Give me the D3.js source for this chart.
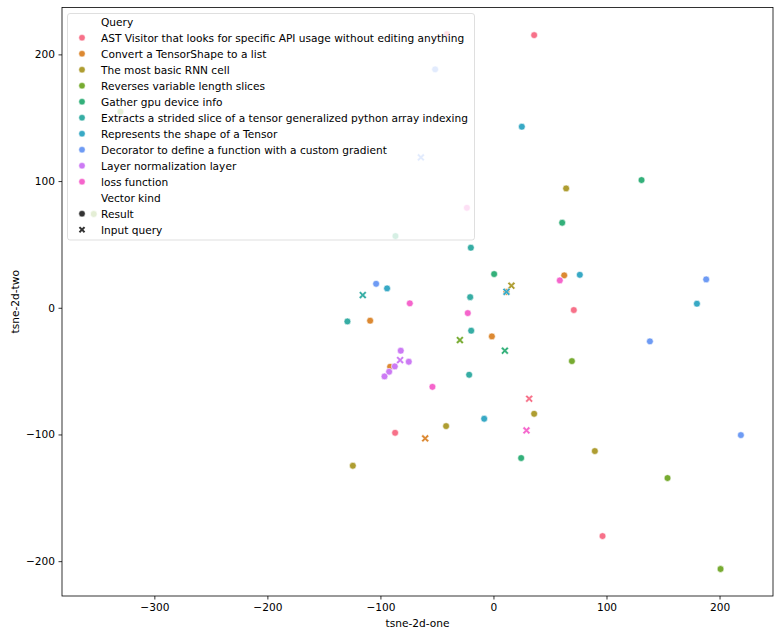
<!DOCTYPE html>
<html>
<head>
<meta charset="utf-8">
<script src="https://cdn.jsdelivr.net/npm/d3@7"></script>
<style>
  body { margin: 0; background: #fff; }
  svg { display: block; font-family: "DejaVu Sans", sans-serif; }
</style>
</head>
<body>
<svg id="chart" width="774" height="634"></svg>
<script>
// query categories and their hue colours
const queries = [
  "AST Visitor that looks for specific API usage without editing anything",
  "Convert a TensorShape to a list",
  "The most basic RNN cell",
  "Reverses variable length slices",
  "Gather gpu device info",
  "Extracts a strided slice of a tensor generalized python array indexing",
  "Represents the shape of a Tensor",
  "Decorator to define a function with a custom gradient",
  "Layer normalization layer",
  "loss function"
];
const palette = ["#f77189", "#dc8932", "#ae9d31", "#77ab31", "#33b07a",
                 "#36ada4", "#38a9c5", "#6e9bf4", "#cc7af4", "#f565cc"];
const kinds = ["Result", "Input query"];

// [tsne-2d-one, tsne-2d-two, query index]
const results = [
  [36.0, 215.2, 0], [71.1, -1.8, 0], [96.5, -180.2, 0], [-87.0, -98.7, 0], [-41.2, 216.0, 0],
  [62.6, 25.6, 1], [-109.1, -10.2, 1], [-1.4, -22.6, 1], [-91.4, -46.6, 1], [11.5, 12.6, 1],
  [64.3, 94.2, 2], [89.7, -113.1, 2], [36.0, -83.7, 2], [-41.9, -93.4, 2], [-124.4, -124.7, 2],
  [69.4, -42.1, 3], [154.0, -134.4, 3], [200.9, -206.2, 3], [-330.0, 154.7, 3], [-353.6, 74.0, 3],
  [131.0, 100.8, 4], [60.8, 67.1, 4], [0.6, 26.6, 4], [24.5, -118.6, 4], [-86.7, 56.6, 4],
  [-20.0, 47.4, 5], [-20.6, 8.4, 5], [-129.2, -10.8, 5], [-19.7, -18.1, 5], [-21.5, -52.9, 5],
  [25.1, 142.9, 6], [76.4, 26.0, 6], [180.0, 3.2, 6], [-94.1, 15.3, 6], [-8.2, -87.6, 6],
  [188.2, 22.4, 7], [138.4, -26.5, 7], [218.9, -100.5, 7], [-103.8, 18.9, 7], [-51.6, 188.2, 7],
  [-82.0, -33.9, 8], [-74.9, -42.6, 8], [-87.3, -46.3, 8], [-92.3, -50.5, 8], [-96.4, -54.2, 8],
  [58.7, 21.6, 9], [-74.0, 3.5, 9], [-22.7, -4.2, 9], [-54.0, -62.4, 9], [-23.5, 78.9, 9]
];
const inputQueries = [
  [31.6, -71.8, 0], [-60.4, -103.1, 1], [15.9, 17.4, 2], [-29.7, -25.5, 3], [10.1, -33.9, 4],
  [-115.6, 10.0, 5], [11.5, 12.6, 6], [-64.2, 118.7, 7], [-82.6, -41.3, 8], [29.2, -96.8, 9]
];
const xTicks = [-300, -200, -100, 0, 100, 200];
const yTicks = [-200, -100, 0, 100, 200];

const svg = d3.select("#chart");
const plotLeft = 62, plotRight = 773, plotTop = 7.5, plotBottom = 596;
const fontSize = 10.6;

const x = d3.scaleLinear().domain([-381.7, 247.3]).range([plotLeft, plotRight]);
const y = d3.scaleLinear().domain([-227.5, 237]).range([plotBottom, plotTop]);
const color = d3.scaleOrdinal().domain(d3.range(queries.length)).range(palette);

// filled "X" marker like seaborn's
function xPath(a, t) {
  const pts = [[t, a], [t, t], [a, t], [a, -t], [t, -t], [t, -a],
               [-t, -a], [-t, -t], [-a, -t], [-a, t], [-t, t], [-t, a]];
  const c = Math.SQRT1_2;
  return "M" + pts.map(([px, py]) => [(px - py) * c, (px + py) * c].map(v => v.toFixed(2)).join(",")).join("L") + "Z";
}
const xShape = xPath(4.3, 1.15);

const plot = svg.append("g");

plot.selectAll("circle.res")
  .data(results)
  .join("circle")
  .attr("class", "res")
  .attr("cx", d => x(d[0]))
  .attr("cy", d => y(d[1]))
  .attr("r", 3.4)
  .attr("fill", d => color(d[2]))
  .attr("stroke", "#fff")
  .attr("stroke-width", 0.6);

plot.selectAll("path.inq")
  .data(inputQueries)
  .join("path")
  .attr("class", "inq")
  .attr("d", xShape)
  .attr("transform", d => `translate(${x(d[0])},${y(d[1])})`)
  .attr("fill", d => color(d[2]))
  .attr("stroke", "#fff")
  .attr("stroke-width", 0.5);

// axes
const xAxis = svg.append("g")
  .attr("transform", `translate(0,${plotBottom})`)
  .call(d3.axisBottom(x).tickValues(xTicks).tickSize(3.5).tickPadding(3.5));
const yAxis = svg.append("g")
  .attr("transform", `translate(${plotLeft},0)`)
  .call(d3.axisLeft(y).tickValues(yTicks).tickSize(3.5).tickPadding(3.5));
[xAxis, yAxis].forEach(g => {
  g.select(".domain").remove();
  g.selectAll("line").attr("stroke", "#000").attr("stroke-width", 0.8);
  g.selectAll("text").attr("font-size", fontSize).attr("fill", "#000")
    .attr("font-family", "DejaVu Sans, sans-serif");
});

svg.append("rect")
  .attr("x", plotLeft).attr("y", plotTop)
  .attr("width", plotRight - plotLeft).attr("height", plotBottom - plotTop)
  .attr("fill", "none").attr("stroke", "#000").attr("stroke-width", 0.8);

svg.append("text")
  .attr("x", (plotLeft + plotRight) / 2).attr("y", 627)
  .attr("text-anchor", "middle").attr("font-size", fontSize)
  .text("tsne-2d-one");
svg.append("text")
  .attr("transform", `translate(19,${(plotTop + plotBottom) / 2}) rotate(-90)`)
  .attr("text-anchor", "middle").attr("font-size", fontSize)
  .text("tsne-2d-two");

// legend
const legend = svg.append("g");
legend.append("rect")
  .attr("x", 67.5).attr("y", 13.5)
  .attr("width", 407).attr("height", 226.5)
  .attr("rx", 2.5)
  .attr("fill", "#fff").attr("fill-opacity", 0.8)
  .attr("stroke", "#ccc").attr("stroke-opacity", 0.8).attr("stroke-width", 0.8);

const rows = [{label: "Query"}]
  .concat(queries.map((q, i) => ({label: q, type: "circle", fill: palette[i]})))
  .concat([{label: "Vector kind"},
           {label: kinds[0], type: "circle", fill: "#333"},
           {label: kinds[1], type: "x", fill: "#333"}]);

const row = legend.selectAll("g.row")
  .data(rows)
  .join("g")
  .attr("class", "row")
  .attr("transform", (d, i) => `translate(0,${21.7 + i * 16})`);

row.filter(d => d.type === "circle").append("circle")
  .attr("cx", 82).attr("cy", 0).attr("r", 3.2)
  .attr("fill", d => d.fill).attr("stroke", "#fff").attr("stroke-width", 0.5);
row.filter(d => d.type === "x").append("path")
  .attr("d", xPath(3.6, 1.0))
  .attr("transform", "translate(82,0)")
  .attr("fill", d => d.fill);
row.append("text")
  .attr("x", 101).attr("y", 3.8)
  .attr("font-size", fontSize).attr("fill", "#000")
  .text(d => d.label);
</script>
</body>
</html>
